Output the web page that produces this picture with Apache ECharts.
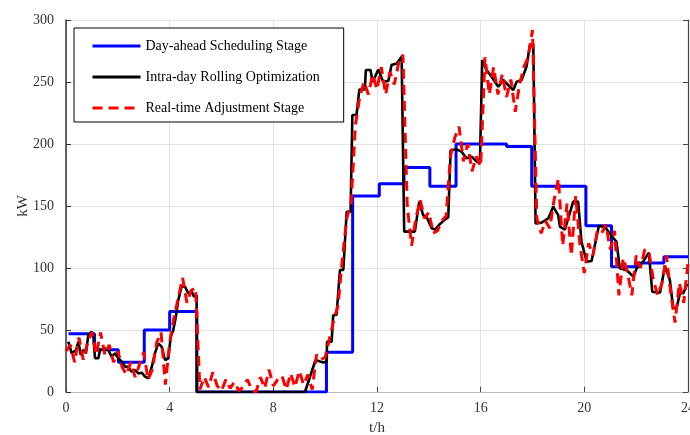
<!DOCTYPE html>
<html>
<head>
<meta charset="utf-8">
<script src="https://cdn.jsdelivr.net/npm/echarts@6/dist/echarts.min.js"></script>
<style>html,body{margin:0;padding:0;background:#fff}#c{width:690px;height:435px}</style>
</head>
<body>
<div id="c"></div>
<script>
// Day-ahead scheduling stage (step, hold value from each time)
var dayAheadTimes  = [0.1, 1.1, 2.02, 3.02, 4.0, 5.05, 10.05, 11.06, 12.09, 13.04, 14.04, 15.05, 17.0, 17.97, 20.06, 21.05, 22.0, 23.07, 24];
var dayAheadValues = [47, 34, 24, 50, 65, 0, 32, 158, 168, 181, 166, 200, 198, 166, 134, 101, 104, 109, 109];

// Intra-day rolling optimization
var intraTimes = [0.09,0.22,0.39,0.48,0.57,0.67,0.77,0.86,0.99,1.05,1.12,1.25,1.31,1.5,1.63,1.76,1.89,2.02,2.15,2.28,2.4,2.53,2.66,2.79,2.92,3.05,3.18,3.31,3.43,3.56,3.69,3.82,3.95,4.04,4.14,4.24,4.33,4.46,4.59,4.72,4.85,4.94,5.04,5.05,
  9.22,9.63,9.93,10.06,10.07,10.25,10.31,10.44,10.57,10.7,10.83,10.98,11.05,11.21,11.32,11.53,11.57,11.75,11.83,12.05,12.24,12.44,12.56,12.76,12.95,13.01,13.05,13.46,13.63,13.78,13.91,14.11,14.24,14.43,14.62,14.75,14.84,15.07,15.26,
  15.33,15.46,15.65,15.84,15.97,16.06,16.23,16.42,16.68,16.87,17.06,17.26,17.39,17.58,17.77,17.9,18.03,18.1,18.12,18.35,18.61,18.8,18.99,19.06,19.25,19.57,19.76,19.89,20.09,20.28,20.56,20.8,21.05,21.24,21.37,21.63,21.89,22.02,22.24,22.49,22.62,22.92,23.11,23.3,23.43,23.56,23.69,23.82,23.95,24];
var intraValues = [40.6,31.2,33.9,40.6,29.8,33.9,31.2,46,48.6,46,27.2,27.2,33.9,35.2,33.9,28.5,31.2,27.2,24.5,20.4,20.4,16.4,17.7,15,15.6,12.4,11,20.4,31.2,39.2,36.6,25.8,27.2,44.6,50,60.8,74,85,85,79.6,81,76.9,78,0,
  0,25.8,23.7,24.5,40.6,40.6,62.1,62.1,98.4,98.4,145.4,145.4,223.4,223.4,244,244,259.7,259.7,250,260,250,251,263.7,265,270.4,270,129.3,129.3,153.5,142.7,141.4,132,131,135.5,139,141,195,195.7,193.8,
  192.5,188.5,189.8,186,184.4,267.7,259.7,254.3,246.2,251.6,247.6,243.5,250.3,251.6,262.4,279.8,280.6,280,136,136.6,140,149.5,142.7,133.3,131,153.5,153.5,121.2,105,105.6,133.9,133,125.8,121.2,99.7,98.4,93,99.7,104.3,112.4,80.9,80,101.5,90.3,67.5,68,79.6,79.6,86.3,86];

// Real-time adjustment stage, one value every 10 minutes from t = 0 h
var realStep = 1 / 6;
var realValues = [33,38,24,44,26,40,48,30,48,30,38,24,33,20,14,24,12,22,32,10,18,40,48,6,40,60,76,92,72,82,84,
  2,12,4,16,5,1,10,3,8,1,4,10,2,0,12,3,18,5,10,13,2,15,4,17,6,14,2,30,26,28,
  43,58,70,108,140,152,215,238,250,240,256,244,262,240,258,248,265,272,150,118,140,155,140,145,128,130,138,142,190,205,
  214,186,200,178,190,182,270,240,262,240,256,238,252,226,248,262,270,292,140,128,138,132,155,172,118,152,110,158,118,96,
  120,110,130,128,135,115,130,78,108,96,78,110,100,115,112,90,78,88,110,80,56,88,72,104];

var xTicks = { min: 0, max: 24, interval: 4 };
var yTicks = { min: 0, max: 300, interval: 50 };

function zip(a, b) { return a.map(function (v, i) { return [v, b[i]]; }); }
var realData = realValues.map(function (v, i) { return [i * realStep, v]; });

var serif = 'Liberation Serif';
var chart = echarts.init(document.getElementById('c'), null, { renderer: 'canvas' });
chart.setOption({
  animation: false,
  backgroundColor: '#fff',
  grid: { left: 66, right: 2, top: 20, bottom: 43, containLabel: false, outerBoundsMode: 'none' },
  legend: {
    orient: 'vertical',
    left: 74, top: 28,
    padding: [11, 24, 7, 17],
    itemWidth: 48, itemHeight: 14, itemGap: 17,
    borderColor: '#000', borderWidth: 1,
    backgroundColor: '#fff',
    itemStyle: { opacity: 0, borderWidth: 0 },
    lineStyle: { width: 3 },
    textStyle: { fontFamily: serif, fontSize: 14, color: '#000', padding: [0, 0, 0, 0] },
    data: ['Day-ahead Scheduling Stage', 'Intra-day Rolling Optimization', 'Real-time Adjustment Stage']
  },
  xAxis: {
    type: 'value', min: xTicks.min, max: xTicks.max, interval: xTicks.interval,
    name: 't/h', nameLocation: 'middle', nameGap: 29, nameMoveOverlap: false,
    nameTextStyle: { fontFamily: serif, fontSize: 15, color: '#333' },
    axisLine: { show: true, lineStyle: { color: '#bbb', width: 1 } },
    axisTick: { show: true, inside: true, length: 5, lineStyle: { color: '#444' } },
    axisLabel: { fontFamily: serif, fontSize: 14, color: '#333', margin: 9 },
    splitLine: { show: true, lineStyle: { color: '#e3e3e3', width: 1 } }
  },
  yAxis: [{
    type: 'value', min: yTicks.min, max: yTicks.max, interval: yTicks.interval,
    name: 'kW', nameLocation: 'middle', nameGap: 35, nameMoveOverlap: false,
    nameTextStyle: { fontFamily: serif, fontSize: 15, color: '#333' },
    axisLine: { show: true, lineStyle: { color: '#333', width: 1.5 } },
    axisTick: { show: true, inside: true, length: 5, lineStyle: { color: '#333' } },
    axisLabel: { fontFamily: serif, fontSize: 14, color: '#333', margin: 12 },
    splitLine: { show: true, lineStyle: { color: '#e3e3e3', width: 1 } }
  }, {
    type: 'value', min: yTicks.min, max: yTicks.max, interval: yTicks.interval, position: 'right',
    axisLine: { show: true, lineStyle: { color: '#444', width: 1.2 } },
    axisTick: { show: true, inside: true, length: 5, lineStyle: { color: '#444' } },
    axisLabel: { show: false }, splitLine: { show: false }
  }],
  series: [{
    name: 'Day-ahead Scheduling Stage', type: 'line', step: 'end', symbol: 'none',
    data: zip(dayAheadTimes, dayAheadValues),
    itemStyle: { color: '#0000ff' }, lineStyle: { color: '#0000ff', width: 3 }, z: 2
  }, {
    name: 'Intra-day Rolling Optimization', type: 'line', symbol: 'none',
    data: zip(intraTimes, intraValues),
    itemStyle: { color: '#000' }, lineStyle: { color: '#000', width: 2.6 }, z: 3
  }, {
    name: 'Real-time Adjustment Stage', type: 'line', symbol: 'none',
    data: realData,
    itemStyle: { color: '#ff0000' }, lineStyle: { color: '#ff0000', width: 3, type: [10, 6] }, z: 4
  }]
});
</script>
</body>
</html>
